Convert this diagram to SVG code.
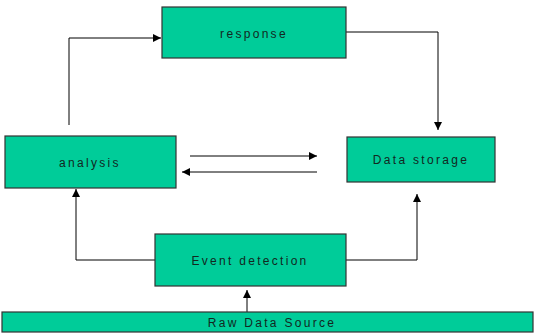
<svg xmlns="http://www.w3.org/2000/svg" width="535" height="336" viewBox="0 0 535 336">
<defs>
<style>
.box{fill:#00cc99;stroke:#333;stroke-width:1.2}
.lbl{font-family:"Liberation Sans",Arial,sans-serif;font-size:12px;letter-spacing:2.3px;fill:#12281f;text-anchor:middle}
.ln{fill:none;stroke:#000;stroke-width:1}
</style>
<marker id="ah" viewBox="0 0 10 10" refX="10" refY="5" markerWidth="8" markerHeight="8" markerUnits="userSpaceOnUse" orient="auto">
<path d="M0,0 L10,5 L0,10 z" fill="#000"/>
</marker>
</defs>
<rect width="535" height="336" fill="#fff"/>
<g id="connectors">
<polyline class="ln" points="69,125 69,38 161,38" marker-end="url(#ah)"/>
<polyline class="ln" points="346,32 438,32 438,130" marker-end="url(#ah)"/>
<line class="ln" x1="190" y1="156" x2="317" y2="156" marker-end="url(#ah)"/>
<line class="ln" x1="317" y1="172" x2="182" y2="172" stroke="#555" marker-end="url(#ah)"/>
<polyline class="ln" points="155,260 76,260 76,189" marker-end="url(#ah)"/>
<polyline class="ln" points="346,260 417,260 417,194" marker-end="url(#ah)"/>
<line class="ln" x1="247" y1="312" x2="247" y2="290" marker-end="url(#ah)"/>
</g>
<g id="response"><rect class="box" x="162" y="7" width="184" height="51"/><text class="lbl" x="254" y="38">response</text></g>
<g id="analysis"><rect class="box" x="5" y="136" width="171" height="52"/><text class="lbl" x="90" y="167">analysis</text></g>
<g id="data-storage"><rect class="box" x="347" y="137" width="148" height="45"/><text class="lbl" x="421" y="164">Data storage</text></g>
<g id="event-detection"><rect class="box" x="155" y="234" width="191" height="52"/><text class="lbl" x="250" y="265">Event detection</text></g>
<g id="raw-data-source"><rect class="box" x="2" y="312" width="531" height="20"/><text class="lbl" x="272" y="327">Raw Data Source</text></g>
</svg>
